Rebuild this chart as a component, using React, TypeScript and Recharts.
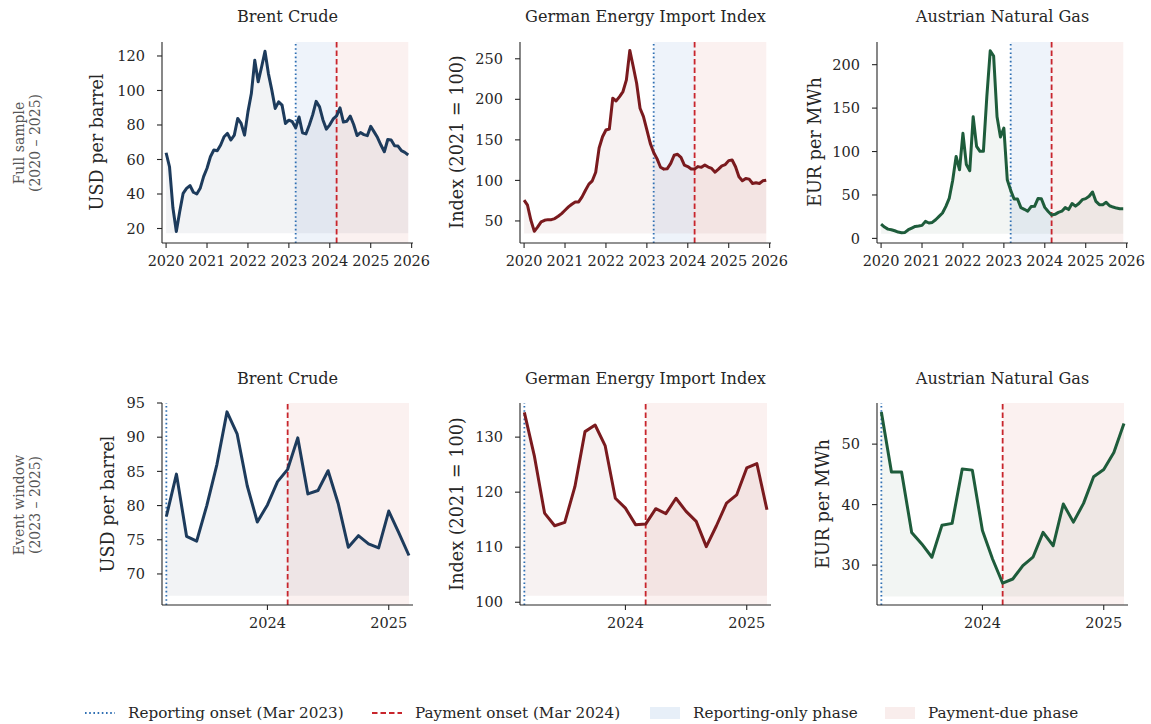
import { ComposedChart, Area, Line, XAxis, YAxis, ReferenceArea, ReferenceLine } from 'recharts'

// Monthly values, index 0 = Jan 2020 ... 71 = Dec 2025
const brentUsd = [
  63.9, 55.8, 32.0, 18.3, 29.8, 40.4, 43.3, 44.9, 41.0, 40.0, 43.3, 50.1,
  54.9, 61.6, 65.5, 65.1, 68.4, 73.2, 75.1, 71.3, 74.1, 83.8, 80.9, 74.1,
  87.6, 98.2, 117.5, 105.0, 113.6, 122.7, 109.8, 100.2, 89.6, 93.4, 91.5, 80.9,
  82.8, 81.9, 78.4, 84.6, 75.5, 74.8, 80.0, 86.0, 93.7, 90.5, 82.9, 77.6,
  80.1, 83.5, 85.3, 89.9, 81.7, 82.2, 85.1, 80.3, 73.9, 75.6, 74.4, 73.8,
  79.2, 76.0, 72.7, 68.4, 64.5, 71.6, 71.3, 68.0, 67.8, 65.1, 64.1, 62.6,
]

const germanIndex = [
  75.6, 69.4, 50.8, 37.2, 42.6, 48.8, 50.8, 51.6, 51.6, 52.9, 55.8, 59.1,
  63.2, 67.3, 70.6, 73.5, 73.5, 79.7, 87.9, 95.4, 99.5, 110.0, 140.0, 153.9,
  162.2, 163.4, 201.3, 198.0, 203.4, 209.6, 224.0, 260.3, 240.5, 219.9, 189.0, 178.7,
  162.2, 145.7, 134.5, 126.5, 116.2, 113.9, 114.5, 121.0, 131.0, 132.2, 128.4, 118.9,
  117.1, 114.1, 114.2, 117.0, 116.1, 118.9, 116.5, 114.7, 110.1, 113.9, 118.0, 119.5,
  124.4, 125.2, 116.8, 104.4, 99.5, 102.4, 101.6, 96.2, 97.0, 96.2, 99.5, 100.3,
]

const austrianGas = [
  16.5, 13.1, 10.7, 10.0, 8.8, 7.3, 6.5, 6.9, 10.0, 11.9, 13.8, 14.2,
  15.0, 19.6, 17.7, 18.4, 21.5, 25.3, 29.2, 36.9, 46.4, 67.0, 94.4, 79.0,
  121.0, 85.0, 78.0, 140.0, 106.0, 100.2, 100.2, 163.0, 216.0, 210.0, 140.0, 116.7,
  127.0, 67.6, 55.3, 45.4, 45.4, 35.4, 33.5, 31.3, 36.6, 36.9, 45.9, 45.7,
  35.7, 31.0, 27.0, 27.7, 29.9, 31.3, 35.4, 33.2, 40.1, 37.1, 40.2, 44.6,
  45.8, 48.6, 53.4, 42.6, 38.8, 38.8, 41.5, 37.6, 36.1, 34.9, 34.2, 34.2,
]

const REPORTING_ONSET = 38 // Mar 2023
const PAYMENT_ONSET = 50 // Mar 2024
const EVENT_END = 62 // Mar 2025
const LAST = 71 // Dec 2025

const fullTicks = [0, 12, 24, 36, 48, 60, 72]
const eventTicks = [48, 60]

const FONT = '"DejaVu Serif", serif'
const INK = '#262626'

const toRows = (vals: number[], from: number, to: number) =>
  vals.map((v, m) => ({ m, v })).filter((d) => d.m >= from && d.m <= to)

type PanelProps = {
  left: number
  top: number
  plotH: number
  vals: number[]
  from: number
  to: number
  xDomain: [number, number]
  xTicks: number[]
  yDomain: [number, number]
  yTicks: number[]
  base: number
  color: string
  showReporting: boolean
}

const PLOT_W = 251
const AXIS_W = 70
const PAD_T = 10
const PAD_R = 26
const X_H = 32

function Panel(p: PanelProps) {
  const data = toRows(p.vals, p.from, p.to)
  const tick = { fontFamily: FONT, fontSize: 14.5, fill: INK }
  return (
    <div style={{ position: 'absolute', left: p.left - AXIS_W, top: p.top - PAD_T }}>
      <ComposedChart
        width={AXIS_W + PLOT_W + PAD_R}
        height={PAD_T + p.plotH + X_H}
        data={data}
        margin={{ top: PAD_T, right: PAD_R, bottom: 0, left: 0 }}
      >
        <XAxis
          type="number"
          dataKey="m"
          domain={p.xDomain}
          ticks={p.xTicks}
          interval={0}
          allowDataOverflow
          tickFormatter={(m: number) => String(2020 + Math.round(m / 12))}
          tick={tick}
          tickSize={5}
          tickMargin={8}
          height={X_H}
          stroke={INK}
          strokeWidth={1.1}
        />
        <YAxis
          type="number"
          domain={p.yDomain}
          ticks={p.yTicks}
          interval={0}
          allowDataOverflow
          tick={tick}
          tickSize={5}
          tickMargin={12}
          width={AXIS_W}
          stroke={INK}
          strokeWidth={1.1}
        />
        {p.showReporting && (
          <ReferenceArea
            x1={REPORTING_ONSET}
            x2={PAYMENT_ONSET}
            fill="#3d7cc9"
            fillOpacity={0.09}
            stroke="none"
            ifOverflow="visible"
          />
        )}
        <ReferenceArea
          x1={PAYMENT_ONSET}
          x2={p.to}
          fill="#c0392b"
          fillOpacity={0.07}
          stroke="none"
          ifOverflow="visible"
        />
        <Area
          dataKey="v"
          type="linear"
          baseValue={p.base}
          stroke="none"
          fill={p.color}
          fillOpacity={0.06}
          isAnimationActive={false}
        />
        <ReferenceLine
          x={REPORTING_ONSET}
          stroke="#2f6fb3"
          strokeWidth={1.8}
          strokeDasharray="1.6 2.6"
          ifOverflow="visible"
        />
        <ReferenceLine
          x={PAYMENT_ONSET}
          stroke="#c8252c"
          strokeWidth={1.8}
          strokeDasharray="5.5 3"
          ifOverflow="visible"
        />
        <Line
          dataKey="v"
          type="linear"
          stroke={p.color}
          strokeWidth={3}
          strokeLinejoin="round"
          dot={false}
          activeDot={false}
          isAnimationActive={false}
        />
      </ComposedChart>
    </div>
  )
}

function Txt({ x, y, size, children, color = INK, rotate = false }: any) {
  return (
    <div
      style={{
        position: 'absolute',
        left: x,
        top: y,
        transform: `translate(-50%, -50%)${rotate ? ' rotate(-90deg)' : ''}`,
        fontFamily: FONT,
        fontSize: size,
        color,
        whiteSpace: 'nowrap',
        textAlign: 'center',
        lineHeight: 1.15,
      }}
    >
      {children}
    </div>
  )
}

const series = [
  { title: 'Brent Crude', label: 'USD per barrel', vals: brentUsd, color: '#1d3b5c' },
  { title: 'German Energy Import Index', label: 'Index (2021 = 100)', vals: germanIndex, color: '#7a1a1e' },
  { title: 'Austrian Natural Gas', label: 'EUR per MWh', vals: austrianGas, color: '#1e5c3b' },
]

const plotLefts = [162, 520, 877]

const fullY = [
  { domain: [11.6, 128.1], ticks: [20, 40, 60, 80, 100, 120], base: 17.3, labelX: 97 },
  { domain: [22.8, 270.7], ticks: [50, 100, 150, 200, 250], base: 34.4, labelX: 457 },
  { domain: [-5.3, 226.1], ticks: [0, 50, 100, 150, 200], base: 5.4, labelX: 815 },
]

const eventY = [
  { domain: [65.46, 95.0], ticks: [70, 75, 80, 85, 90, 95], base: 66.8, labelX: 108 },
  { domain: [99.5, 136.2], ticks: [100, 110, 120, 130], base: 101.2, labelX: 457 },
  { domain: [23.4, 56.8], ticks: [30, 40, 50], base: 24.8, labelX: 823 },
]

function LegendItem({ x, kind, text }: { x: number; kind: string; text: string }) {
  return (
    <>
      <svg style={{ position: 'absolute', left: x, top: 705 }} width={32} height={16}>
        {kind === 'dot' && (
          <line x1={1} y1={8} x2={31} y2={8} stroke="#2f6fb3" strokeWidth={1.8} strokeDasharray="1.6 2.6" />
        )}
        {kind === 'dash' && (
          <line x1={1} y1={8} x2={31} y2={8} stroke="#c8252c" strokeWidth={1.8} strokeDasharray="5.5 3" />
        )}
        {kind === 'blue' && <rect x={1} y={2} width={30} height={12} fill="#3d7cc9" fillOpacity={0.12} />}
        {kind === 'pink' && <rect x={1} y={2} width={30} height={12} fill="#c0392b" fillOpacity={0.09} />}
      </svg>
      <div
        style={{
          position: 'absolute',
          left: x + 44,
          top: 713,
          transform: 'translateY(-50%)',
          fontFamily: FONT,
          fontSize: 15.2,
          color: INK,
          whiteSpace: 'nowrap',
        }}
      >
        {text}
      </div>
    </>
  )
}

export default function App() {
  return (
    <div
      style={{
        position: 'absolute',
        left: 0,
        top: 0,
        width: 1151,
        height: 724,
        background: '#ffffff',
        overflow: 'hidden',
      }}
    >
      {series.map((s, i) => (
        <div key={`full-${i}`}>
          <Panel
            left={plotLefts[i]}
            top={42}
            plotH={201}
            vals={s.vals}
            from={0}
            to={LAST}
            xDomain={[-1.2, 72.4]}
            xTicks={fullTicks}
            yDomain={fullY[i].domain as [number, number]}
            yTicks={fullY[i].ticks}
            base={fullY[i].base}
            color={s.color}
            showReporting
          />
          <Txt x={plotLefts[i] + 125.5} y={17} size={16.1}>{s.title}</Txt>
          <Txt x={fullY[i].labelX} y={142} size={17.6} rotate>{s.label}</Txt>
        </div>
      ))}
      {series.map((s, i) => (
        <div key={`event-${i}`}>
          <Panel
            left={plotLefts[i]}
            top={403}
            plotH={202}
            vals={s.vals}
            from={REPORTING_ONSET}
            to={EVENT_END}
            xDomain={[37.57, 62.4]}
            xTicks={eventTicks}
            yDomain={eventY[i].domain as [number, number]}
            yTicks={eventY[i].ticks}
            base={eventY[i].base}
            color={s.color}
            showReporting={false}
          />
          <Txt x={plotLefts[i] + 125.5} y={379} size={16.1}>{s.title}</Txt>
          <Txt x={eventY[i].labelX} y={504} size={17.6} rotate>{s.label}</Txt>
        </div>
      ))}
      <Txt x={27} y={143} size={14} color="#555555" rotate>
        Full sample
        <br />
        (2020 – 2025)
      </Txt>
      <Txt x={27} y={505} size={14} color="#555555" rotate>
        Event window
        <br />
        (2023 – 2025)
      </Txt>
      <LegendItem x={84} kind="dot" text="Reporting onset (Mar 2023)" />
      <LegendItem x={371} kind="dash" text="Payment onset (Mar 2024)" />
      <LegendItem x={649} kind="blue" text="Reporting-only phase" />
      <LegendItem x={884} kind="pink" text="Payment-due phase" />
    </div>
  )
}
